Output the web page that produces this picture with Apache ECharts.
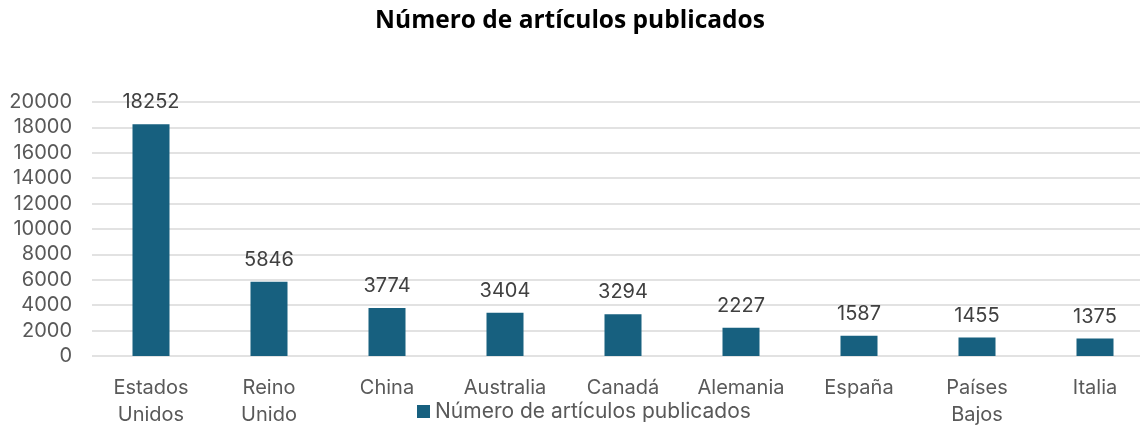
<!DOCTYPE html>
<html>
<head>
<meta charset="utf-8">
<script src="https://cdn.jsdelivr.net/npm/echarts@6/dist/echarts.min.js"></script>
<style>
html,body{margin:0;padding:0;background:#fff;}
#main-chart{width:1140px;height:439px;}
</style>
</head>
<body>
<div id="main-chart"></div>
<script>
// datos
var paises = ['Estados\nUnidos', 'Reino\nUnido', 'China', 'Australia', 'Canadá', 'Alemania', 'España', 'Países\nBajos', 'Italia'];
var articulos = [18252, 5846, 3774, 3404, 3294, 2227, 1587, 1455, 1375];
var nombreSerie = 'Número de artículos publicados';

var option = {
	backgroundColor: '#fff',
	title: {
		text: 'Número de artículos publicados',
		left: 'center',
		top: 4,
		textStyle: { fontFamily: 'Open Sans', fontSize: 24.5, fontWeight: 'bold', color: '#000' }
	},
	legend: {
		data: [nombreSerie],
		bottom: 12,
		left: 412,
		icon: 'rect',
		itemWidth: 13,
		itemHeight: 13,
		itemGap: 4,
		textStyle: { fontFamily: 'Inter', fontSize: 21, color: '#595959' }
	},
	grid: {
		left: 92,
		right: -14,
		top: 102,
		bottom: 83,
		outerBoundsMode: 'none'
	},
	xAxis: {
		type: 'category',
		data: paises,
		axisLine: { show: false },
		axisTick: { show: false },
		axisLabel: {
			margin: 18,
			fontFamily: 'Inter',
			fontSize: 20,
			lineHeight: 27,
			color: '#595959'
		}
	},
	yAxis: {
		type: 'value',
		min: 0,
		max: 20000,
		interval: 2000,
		axisLine: { show: false },
		axisTick: { show: false },
		splitLine: { lineStyle: { color: '#d9d9d9', width: 1.5 } },
		axisLabel: {
			margin: 20,
			fontFamily: 'Inter',
			fontSize: 20,
			color: '#595959',
			formatter: function (v) { return String(v); }
		}
	},
	series: [
		{
			name: nombreSerie,
			type: 'bar',
			data: articulos,
			barWidth: 37,
			itemStyle: { color: '#17607f' },
			label: {
				show: true,
				position: 'top',
				distance: 12,
				fontFamily: 'Inter',
				fontSize: 20,
				color: '#404040'
			}
		}
	]
};

var myChart = echarts.init(document.getElementById('main-chart'));
myChart.setOption(option);
</script>
</body>
</html>
